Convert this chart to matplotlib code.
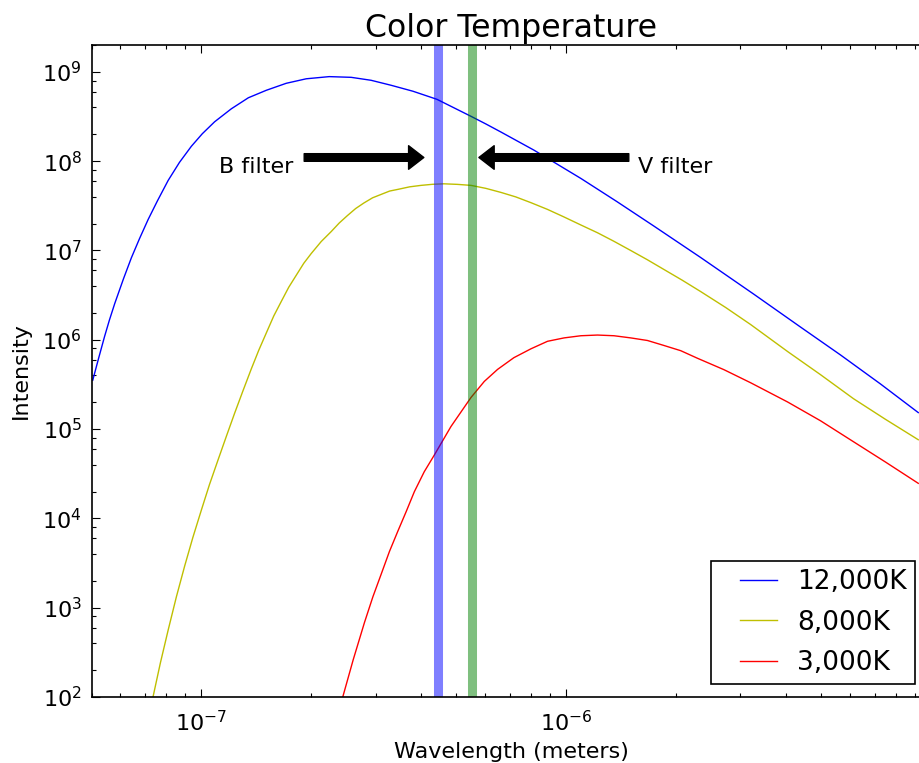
import matplotlib
matplotlib.use('Agg')
import matplotlib.pyplot as plt
from matplotlib.ticker import LogLocator
from matplotlib.lines import Line2D
from matplotlib.legend_handler import HandlerLine2D

# values (wavelength in m, intensity)
wl_12000 = [5.04e-8, 5.23e-8, 5.43e-8, 5.60e-8, 5.79e-8, 6.12e-8, 6.43e-8, 6.77e-8,
            7.15e-8, 7.58e-8, 8.11e-8, 8.71e-8, 9.39e-8, 1.006e-7, 1.087e-7, 1.208e-7,
            1.345e-7, 1.506e-7, 1.708e-7, 1.938e-7, 2.24e-7, 2.573e-7, 2.918e-7, 3.31e-7,
            3.80e-7, 4.42e-7, 5.48e-7, 6.02e-7, 6.62e-7, 8.15e-7, 1.096e-6, 1.374e-6,
            1.736e-6, 2.333e-6, 3.26e-6, 4.38e-6, 5.64e-6, 7.25e-6, 9.21e-6]
I_12000 = [3.53e5, 6.22e5, 1.09e6, 1.67e6, 2.55e6, 4.84e6, 8.28e6, 1.36e7,
           2.23e7, 3.60e7, 6.09e7, 9.70e7, 1.47e8, 2.03e8, 2.76e8, 3.86e8,
           5.13e8, 6.22e8, 7.45e8, 8.37e8, 8.85e8, 8.69e8, 8.05e8, 7.08e8,
           6.07e8, 4.93e8, 3.18e8, 2.61e8, 2.12e8, 1.33e8, 6.41e7, 3.54e7,
           1.88e7, 8.35e6, 3.25e6, 1.39e6, 6.76e5, 3.21e5, 1.53e5]

wl_8000 = [7.37e-8, 7.72e-8, 8.11e-8, 8.54e-8, 9.00e-8, 9.48e-8, 1.0e-7, 1.052e-7,
           1.111e-7, 1.171e-7, 1.233e-7, 1.299e-7, 1.370e-7, 1.436e-7, 1.506e-7, 1.579e-7,
           1.655e-7, 1.735e-7, 1.819e-7, 1.908e-7, 2.0e-7, 2.13e-7, 2.269e-7, 2.386e-7,
           2.51e-7, 2.647e-7, 2.79e-7, 2.945e-7, 3.11e-7, 3.28e-7, 3.46e-7, 3.72e-7,
           4.0e-7, 4.30e-7, 4.62e-7, 5.03e-7, 5.48e-7, 6.02e-7, 6.62e-7, 7.27e-7,
           8.0e-7, 8.87e-7, 9.84e-7, 1.096e-6, 1.217e-6, 1.349e-6, 1.501e-6, 1.666e-6,
           1.852e-6, 2.077e-6, 2.333e-6, 2.732e-6, 3.20e-6, 4.04e-6, 4.97e-6, 6.12e-6,
           7.48e-6, 9.21e-6]
I_8000 = [1.0e2, 2.40e2, 5.62e2, 1.32e3, 2.93e3, 6.14e3, 1.24e4, 2.38e4,
          4.52e4, 8.32e4, 1.50e5, 2.66e5, 4.71e5, 7.62e5, 1.19e6, 1.85e6,
          2.68e6, 3.87e6, 5.27e6, 7.19e6, 9.25e6, 1.26e7, 1.63e7, 2.03e7,
          2.45e7, 2.95e7, 3.41e7, 3.89e7, 4.25e7, 4.63e7, 4.84e7, 5.16e7,
          5.36e7, 5.51e7, 5.58e7, 5.50e7, 5.36e7, 4.96e7, 4.47e7, 3.98e7,
          3.43e7, 2.89e7, 2.38e7, 1.93e7, 1.58e7, 1.27e7, 1.0e7, 7.89e6,
          6.12e6, 4.65e6, 3.47e6, 2.30e6, 1.48e6, 7.38e5, 4.07e5, 2.19e5,
          1.29e5, 7.60e4]

wl_3000 = [2.44e-7, 2.606e-7, 2.798e-7, 2.95e-7, 3.11e-7, 3.275e-7, 3.452e-7, 3.64e-7,
           3.833e-7, 4.08e-7, 4.35e-7, 4.83e-7, 5.48e-7, 5.96e-7, 6.48e-7, 7.18e-7,
           8.0e-7, 8.88e-7, 9.86e-7, 1.096e-6, 1.217e-6, 1.351e-6, 1.501e-6, 1.668e-6,
           1.852e-6, 2.058e-6, 2.285e-6, 2.702e-6, 3.20e-6, 4.04e-6, 4.97e-6, 6.12e-6,
           7.48e-6, 9.21e-6]
I_3000 = [1.0e2, 2.61e2, 6.82e2, 1.32e3, 2.38e3, 4.25e3, 7.15e3, 1.19e4,
          1.99e4, 3.33e4, 5.14e4, 1.07e5, 2.26e5, 3.42e5, 4.66e5, 6.30e5,
          7.93e5, 9.62e5, 1.05e6, 1.11e6, 1.13e6, 1.11e6, 1.05e6, 9.82e5,
          8.63e5, 7.55e5, 6.22e5, 4.63e5, 3.30e5, 2.01e5, 1.24e5, 7.22e4,
          4.29e4, 2.47e4]

labels = ['12,000K', '8,000K', '3,000K']
colors = ['b', 'y', 'r']

# filter centres (m)
b_filter = 445e-9
v_filter = 551e-9

plt.rcParams['font.family'] = ['DejaVu Sans']
plt.rcParams['axes.unicode_minus'] = False
plt.rcParams['font.size'] = 16

fig = plt.figure(figsize=(9.19, 7.63), dpi=100)
# axes run past the right edge, like the cropped original
ax = fig.add_axes([91.5 / 919, 66 / 763, (931 - 91.5) / 919, (697 - 45) / 763])

for wl, inten, lab, c in zip([wl_12000, wl_8000, wl_3000], [I_12000, I_8000, I_3000], labels, colors):
    ax.plot(wl, inten, color=c, lw=1.0, label=lab)

ax.axvline(b_filter, color='b', alpha=0.5, lw=6.5)
ax.axvline(v_filter, color='g', alpha=0.5, lw=6.5)

ax.set_xscale('log')
ax.set_yscale('log')
ax.set_xlim(5e-8, 9.98e-6)
ax.set_ylim(1e2, 2e9)

ax.yaxis.set_minor_locator(LogLocator(base=10, subs=(2, 4, 6, 8)))
ax.tick_params(which='both', direction='in', top=True, right=True, labelsize=16)
ax.tick_params(axis='x', which='both', pad=9)
ax.tick_params(axis='y', which='both', pad=7)
ax.tick_params(which='major', length=5.8, width=0.8)
ax.tick_params(which='minor', length=3, width=0.8)
for s in ax.spines.values():
    s.set_linewidth(1.2)

arrow = dict(facecolor='black', edgecolor='black', width=5.5, headwidth=17, headlength=11, shrink=0)
ax.annotate('', xy=(4.07e-7, 1.1e8), xytext=(1.913e-7, 1.1e8), arrowprops=arrow)
ax.annotate('', xy=(5.76e-7, 1.1e8), xytext=(1.483e-6, 1.1e8), arrowprops=arrow)
ax.text(1.12e-7, 8.5e7, 'B filter', fontsize=16, va='center', ha='left')
ax.text(1.569e-6, 8.5e7, 'V filter', fontsize=16, va='center', ha='left')

ax.set_title('Color Temperature', fontsize=22.7)
ax.set_xlabel('Wavelength (meters)', fontsize=16, labelpad=5)
ax.set_ylabel('Intensity', fontsize=16, labelpad=8)

leg = ax.legend(loc='lower right', bbox_to_anchor=(0.9805, 0.02), borderaxespad=0,
                fontsize=19, fancybox=False, framealpha=1, edgecolor='black',
                handlelength=2.2, handletextpad=0.75, borderpad=0.3, labelspacing=0.55,
                handler_map={Line2D: HandlerLine2D(xpad=0.8)})
leg.get_frame().set_linewidth(1.2)

fig.savefig('out.png', dpi=100)
